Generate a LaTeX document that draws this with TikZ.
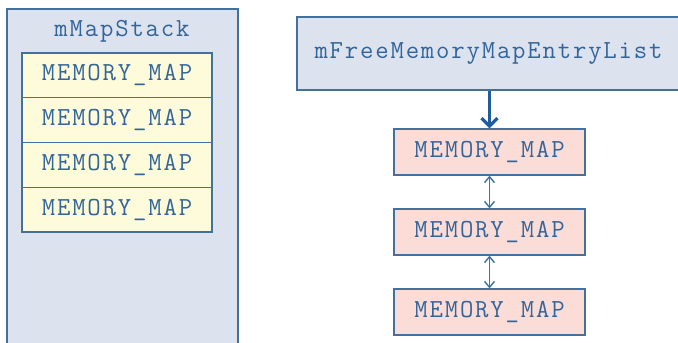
\documentclass[tikz,border=0pt]{standalone}
\usepackage{fontspec}
\setmonofont{Latin Modern Mono}[LetterSpace=7]
\usetikzlibrary{arrows.meta}
\definecolor{frameblue}{HTML}{41719C}
\definecolor{textblue}{HTML}{33659A}
\definecolor{arrowblue}{HTML}{1F5C9E}
\definecolor{panelfill}{HTML}{DCE3EE}
\definecolor{stackfill}{HTML}{FEFBDA}
\definecolor{listfill}{HTML}{FCDCD6}
\begin{document}
\begin{tikzpicture}[x=0.5pt,y=-0.5pt,
  every node/.style =
   {font=\ttfamily\fontsize{13}{15}\selectfont,text=textblue,inner sep=0pt},
  stackbox/.style = {draw=frameblue,fill=stackfill,line width=0.6pt,
   minimum width=95pt,minimum height=22.4pt},
  listbox/.style = {draw=frameblue,fill=listfill,line width=0.6pt,
   minimum width=95.5pt,minimum height=23pt},
  link/.style = {draw=frameblue,line width=0.7pt,
   {Straight Barb[length=3pt,width=5pt]}-{Straight Barb[length=3pt,width=5pt]}},
  feed/.style = {draw=arrowblue,line width=1.6pt,
   -{Straight Barb[length=4pt,width=8pt]}}]
   \useasboundingbox (0,0) rectangle (678,342);
   \clip (0,0) rectangle (678,342);
   % stack panel
   \draw[frameblue,fill=panelfill,line width=0.75pt] (7,9) rectangle (238,360);
   \node (stack) at (122,31) {mMapStack};
   \node[stackbox] (s1) at (117,75.4)  {MEMORY\_MAP};
   \node[stackbox] (s2) at (117,120.1) {MEMORY\_MAP};
   \node[stackbox] (s3) at (117,164.9) {MEMORY\_MAP};
   \node[stackbox] (s4) at (117,209.6) {MEMORY\_MAP};
   % free list
   \node[draw=frameblue,fill=panelfill,line width=0.75pt,
     minimum width=191.5pt,minimum height=36.5pt] (free) at (488.5,53.5)
     {mFreeMemoryMapEntryList};
   \node[listbox] (m1) at (489.5,152) {MEMORY\_MAP};
   \node[listbox] (m2) at (489.5,232) {MEMORY\_MAP};
   \node[listbox] (m3) at (489.5,312) {MEMORY\_MAP};
   \draw[feed] (m1.north |- free.south) -- (m1.north);
   \draw[link] (m1) -- (m2);
   \draw[link] (m2) -- (m3);
\end{tikzpicture}
\end{document}
